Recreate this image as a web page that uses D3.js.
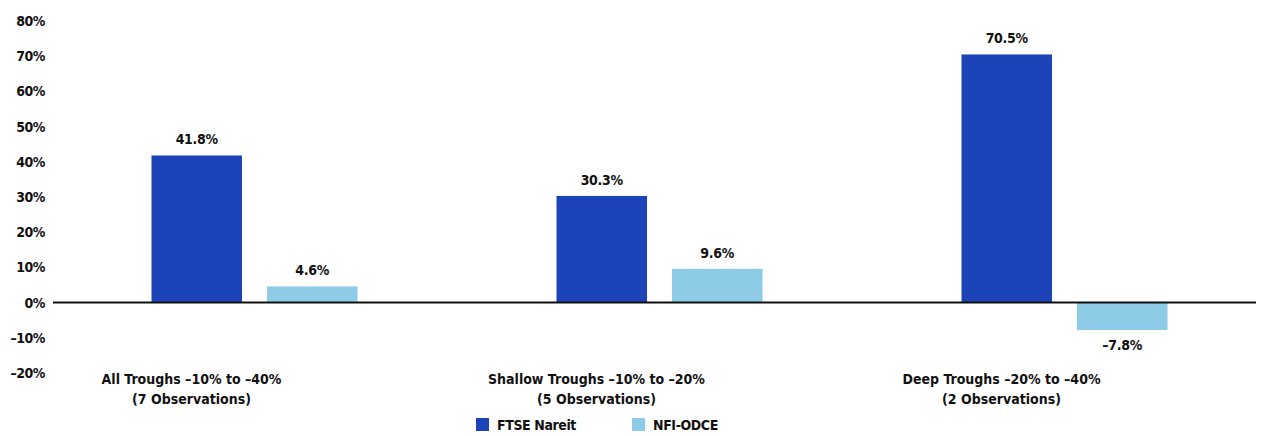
<!DOCTYPE html>
<html>
<head>
<meta charset="utf-8">
<script src="https://cdn.jsdelivr.net/npm/d3@7"></script>
<style>
  body { margin: 0; background: #fff; }
  text { font-family: "Liberation Sans Narrow", "DejaVu Sans Condensed", sans-serif; font-weight: bold; fill: #111; }
</style>
</head>
<body>
<script>
var categories = ["All Troughs \u201310% to \u201340%", "Shallow Troughs \u201310% to \u201320%", "Deep Troughs \u201320% to \u201340%"];
var subLabels  = ["(7 Observations)", "(5 Observations)", "(2 Observations)"];
var seriesNames = ["FTSE Nareit", "NFI-ODCE"];
var ftse = [41.8, 30.3, 70.5];
var nfi  = [4.6, 9.6, -7.8];
var yTicks = [-20, -10, 0, 10, 20, 30, 40, 50, 60, 70, 80];
var colors = ["#1c44b8", "#8ecbe6"];

var width = 1266, height = 436;

var svg = d3.select("body").append("svg")
            .attr("width", width)
            .attr("height", height);

var y = d3.scaleLinear().domain([-20, 80]).range([373, 21]);

var x0 = d3.scaleBand().domain(categories).range([52, 1267]);

var x1 = d3.scaleBand().domain(seriesNames)
           .range([x0.bandwidth() / 2 - 103, x0.bandwidth() / 2 + 103])
           .paddingInner(0.216);

var fmt = function(v) { return (v < 0 ? "\u2013" : "") + Math.abs(v) + "%"; };

// y axis labels
var yAxis = d3.axisLeft(y).tickValues(yTicks).tickSize(0).tickPadding(0)
              .tickFormat(fmt);
svg.append("g")
   .attr("transform", "translate(45,0)")
   .call(yAxis)
   .call(function(g) { g.select(".domain").remove(); })
   .selectAll("text")
   .style("font-size", "14px")
   .style("letter-spacing", "-0.5px")
   .attr("font-family", null);

var rows = categories.map(function(c, i) {
  return { cat: c, sub: subLabels[i], vals: [ftse[i], nfi[i]] };
});

var groups = svg.selectAll("g.grp")
                .data(rows)
                .enter()
                .append("g")
                .attr("class", "grp")
                .attr("transform", function(d) { return "translate(" + x0(d.cat) + ",0)"; });

var bars = groups.selectAll("g.bar")
                 .data(function(d) { return d.vals.map(function(v, j) { return { s: seriesNames[j], v: v, j: j }; }); })
                 .enter()
                 .append("g")
                 .attr("class", "bar");

bars.append("rect")
    .attr("x", function(d) { return x1(d.s); })
    .attr("width", x1.bandwidth())
    .attr("y", function(d) { return y(Math.max(0, d.v)); })
    .attr("height", function(d) { return Math.abs(y(d.v) - y(0)); })
    .style("fill", function(d) { return colors[d.j]; });

bars.append("text")
    .attr("x", function(d) { return x1(d.s) + x1.bandwidth() / 2; })
    .attr("y", function(d) { return d.v >= 0 ? y(d.v) - 11 : y(d.v) + 20; })
    .attr("text-anchor", "middle")
    .style("font-size", "14px")
    .style("letter-spacing", "-0.3px")
    .text(function(d) { return d.v.toFixed(1).replace("-", "\u2013") + "%"; });

// category labels
groups.append("text")
      .attr("x", x0.bandwidth() / 2 - 63)
      .attr("y", 384)
      .attr("text-anchor", "middle")
      .style("font-size", "14px")
      .text(function(d) { return d.cat; });

groups.append("text")
      .attr("x", x0.bandwidth() / 2 - 63)
      .attr("y", 404)
      .attr("text-anchor", "middle")
      .style("font-size", "14px")
      .text(function(d) { return d.sub; });

// zero line
svg.append("line")
   .attr("x1", 53).attr("x2", 1256)
   .attr("y1", y(0)).attr("y2", y(0))
   .style("stroke", "#111")
   .style("stroke-width", 2);

// legend
var legendX = [476, 632];
var legend = svg.selectAll("g.leg")
                .data(seriesNames)
                .enter()
                .append("g")
                .attr("class", "leg")
                .attr("transform", function(d, i) { return "translate(" + legendX[i] + ",418)"; });

legend.append("rect")
      .attr("width", 13).attr("height", 13)
      .style("fill", function(d, i) { return colors[i]; });

legend.append("text")
      .attr("x", 21).attr("y", 12)
      .style("font-size", "14px")
      .style("letter-spacing", "-0.4px")
      .text(function(d) { return d; });
</script>
</body>
</html>
